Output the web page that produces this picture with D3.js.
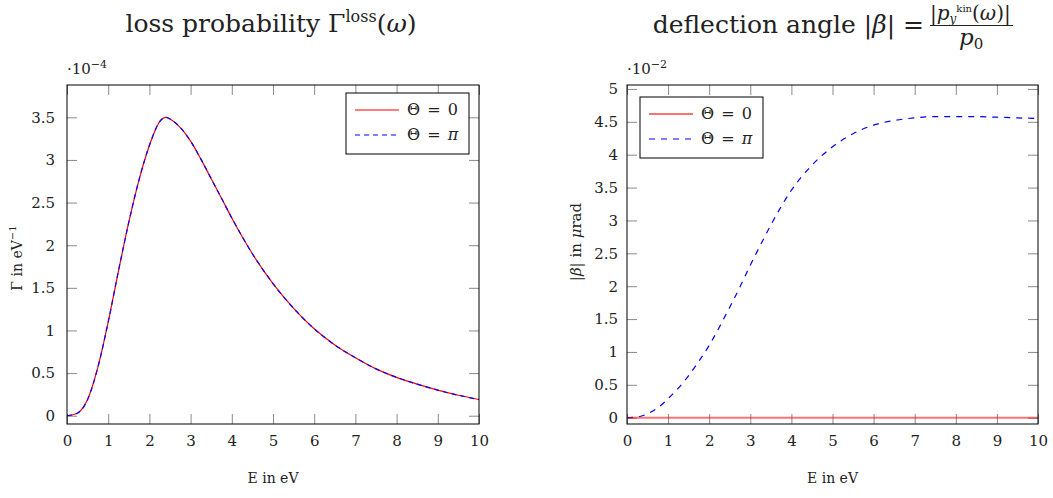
<!DOCTYPE html>
<html>
<head>
<meta charset="utf-8">
<script src="https://cdn.jsdelivr.net/npm/d3@7"></script>
<style>
  body { margin: 0; background: #fff; }
  svg { display: block; }
  text { font-family: "DejaVu Serif", "Liberation Serif", serif; fill: #222; }
</style>
</head>
<body>
<div class="canvas"></div>
<script>
// energies in eV (shared by both panels)
const energy = [0, 0.25, 0.5, 0.75, 1, 1.25, 1.5, 1.75, 2, 2.25, 2.4, 2.5, 2.75, 3, 3.25, 3.5, 3.75, 4,
                4.5, 5, 5.5, 6, 6.5, 7, 7.5, 8, 8.5, 9, 9.5, 10];

// loss probability, units of 1e-4 eV^-1 (Theta = 0 and Theta = pi coincide)
const lossTheta0  = [0, 0.03, 0.19, 0.57, 1.10, 1.70, 2.27, 2.77, 3.17, 3.45, 3.50, 3.48, 3.38, 3.22, 3.01, 2.78, 2.55, 2.32,
                     1.90, 1.55, 1.26, 1.02, 0.83, 0.68, 0.55, 0.45, 0.37, 0.30, 0.24, 0.19];
const lossThetaPi = [0, 0.03, 0.19, 0.57, 1.10, 1.70, 2.27, 2.77, 3.17, 3.45, 3.50, 3.48, 3.38, 3.22, 3.01, 2.78, 2.55, 2.32,
                     1.90, 1.55, 1.26, 1.02, 0.83, 0.68, 0.55, 0.45, 0.37, 0.30, 0.24, 0.19];

// deflection angle, units of 1e-2 microrad
const betaTheta0  = [0, 0, 0, 0, 0, 0, 0, 0, 0, 0, 0, 0, 0, 0, 0, 0, 0, 0,
                     0, 0, 0, 0, 0, 0, 0, 0, 0, 0, 0, 0];
const betaThetaPi = [0, 0.01, 0.06, 0.15, 0.29, 0.45, 0.64, 0.86, 1.10, 1.38, 1.56, 1.68, 1.99, 2.32, 2.63, 2.93, 3.21, 3.46,
                     3.84, 4.12, 4.32, 4.45, 4.52, 4.56, 4.58, 4.58, 4.58, 4.57, 4.56, 4.55];

const xTicks = [0, 1, 2, 3, 4, 5, 6, 7, 8, 9, 10];
const lossTicks = [0, 0.5, 1, 1.5, 2, 2.5, 3, 3.5];
const betaTicks = [0, 0.5, 1, 1.5, 2, 2.5, 3, 3.5, 4, 4.5, 5];
const legendLabels = [['Θ = ', '0'], ['Θ = ', 'π']];

const svg = d3.select('.canvas')
    .append('svg')
    .attr('width', 1053)
    .attr('height', 498);

const tickLen = 10;

// one pgfplots-like panel
const drawPanel = (p) => {
    const w = p.right - p.left;
    const h = p.bottom - p.top;
    const g = svg.append('g').attr('transform', `translate(${p.left},${p.top})`);

    const x = d3.scaleLinear().domain([0, 10]).range([0, w]);
    const y = d3.scaleLinear().domain(p.yDomain).range([h, 0]);

    // ticks on all four sides, pointing inward
    const xb = g.append('g').attr('transform', `translate(0,${h})`)
        .call(d3.axisBottom(x).tickValues(xTicks).tickSize(-tickLen).tickSizeOuter(0).tickPadding(11).tickFormat(d3.format('d')));
    const xt = g.append('g')
        .call(d3.axisTop(x).tickValues(xTicks).tickSize(-tickLen).tickSizeOuter(0).tickFormat(''));
    const yl = g.append('g')
        .call(d3.axisLeft(y).tickValues(p.yTicks).tickSize(-tickLen).tickSizeOuter(0).tickPadding(p.yPad).tickFormat(d => d3.format('')(d)));
    const yr = g.append('g').attr('transform', `translate(${w},0)`)
        .call(d3.axisRight(y).tickValues(p.yTicks).tickSize(-tickLen).tickSizeOuter(0).tickFormat(''));
    [xb, xt, yl, yr].forEach(a => {
        a.select('.domain').remove();
        a.selectAll('line').attr('stroke', '#8a8a8a').attr('stroke-width', 1);
        a.selectAll('text').style('font-family', '"DejaVu Serif", serif').style('font-size', '15px').attr('fill', '#222');
    });

    // curves
    const line = d3.line().x((d, i) => x(energy[i])).y(d => y(d)).curve(d3.curveMonotoneX);
    p.series.forEach(s => {
        g.append('path')
            .attr('d', line(s.values))
            .attr('fill', 'none')
            .attr('stroke', s.color)
            .attr('stroke-width', s.width)
            .attr('stroke-opacity', s.opacity)
            .attr('stroke-dasharray', s.dash);
    });

    // frame
    g.append('rect')
        .attr('width', w).attr('height', h)
        .attr('fill', 'none').attr('stroke', '#000').attr('stroke-width', 1);

    // legend
    const lg = svg.append('g').attr('transform', `translate(${p.legend.x},${p.legend.y})`);
    lg.append('rect')
        .attr('width', 123).attr('height', 61)
        .attr('fill', '#fff').attr('stroke', '#000').attr('stroke-width', 1);
    p.legendOrder.forEach((s, i) => {
        const ly = 17 + i * 25;
        lg.append('line')
            .attr('x1', 9).attr('x2', 53).attr('y1', ly).attr('y2', ly)
            .attr('stroke', s.color).attr('stroke-width', s.width)
            .attr('stroke-opacity', s.opacity).attr('stroke-dasharray', s.dash);
        const lt = lg.append('text')
            .attr('x', 61).attr('y', ly + 5)
            .attr('xml:space', 'preserve')
            .style('font-size', '16px')
            .style('word-spacing', '2px');
        lt.append('tspan').text(legendLabels[i][0]);
        lt.append('tspan').style('font-style', i === 1 ? 'italic' : 'normal').text(legendLabels[i][1]);
    });

    // scale factor label
    const sc = svg.append('text').attr('x', p.left).attr('y', 74).style('font-size', '15px');
    sc.append('tspan').text('·10');
    sc.append('tspan').attr('dy', -6).style('font-size', '11px').text(p.exponent);

    // x axis label
    svg.append('text')
        .attr('x', p.left + w / 2).attr('y', 483)
        .attr('text-anchor', 'middle').style('font-size', '14px')
        .text('E in eV');
    return { g, x, y };
};

drawPanel({
    left: 67, right: 479, top: 85, bottom: 424,
    yDomain: [-0.097, 3.879], yTicks: lossTicks, exponent: '−4', yPad: 12,
    series: [
        { values: lossTheta0, color: '#ff0000', width: 1.2, opacity: 1, dash: null },
        { values: lossThetaPi, color: '#0000ff', width: 1.2, opacity: 1, dash: '5,4' }
    ],
    legendOrder: [
        { color: '#ff0000', width: 1.2, opacity: 1, dash: null },
        { color: '#0000ff', width: 1.2, opacity: 1, dash: '5,4' }
    ],
    legend: { x: 346, y: 93 }
});

drawPanel({
    left: 627, right: 1038, top: 85, bottom: 424,
    yDomain: [-0.096, 5.06], yTicks: betaTicks, exponent: '−2', yPad: 9,
    series: [
        { values: betaThetaPi, color: '#0000ff', width: 1.2, opacity: 1, dash: '6,6' },
        { values: betaTheta0, color: '#ff0000', width: 2, opacity: 0.55, dash: null }
    ],
    legendOrder: [
        { color: '#ff0000', width: 2, opacity: 0.55, dash: null },
        { color: '#0000ff', width: 1.2, opacity: 1, dash: '6,6' }
    ],
    legend: { x: 640, y: 97 }
});

// y axis labels
const gl = svg.append('text')
    .attr('transform', 'translate(22,258) rotate(-90)')
    .attr('text-anchor', 'middle').style('font-size', '14px');
gl.append('tspan').text('Γ in eV');
gl.append('tspan').attr('dy', -6).style('font-size', '10px').text('−1');

const bl = svg.append('text')
    .attr('transform', 'translate(581,242) rotate(-90)')
    .attr('text-anchor', 'middle').style('font-size', '15px');
bl.append('tspan').text('|');
bl.append('tspan').style('font-style', 'italic').text('β');
bl.append('tspan').text('| in ');
bl.append('tspan').style('font-style', 'italic').text('μ');
bl.append('tspan').text('rad');

// titles
const t1 = svg.append('text')
    .attr('x', 271).attr('y', 32)
    .attr('text-anchor', 'middle').style('font-size', '25px');
t1.append('tspan').text('loss probability Γ');
t1.append('tspan').attr('dy', -10).style('font-size', '16px').text('loss');
t1.append('tspan').attr('dy', 10).text('(');
t1.append('tspan').style('font-style', 'italic').text('ω');
t1.append('tspan').text(')');

const t2 = svg.append('text')
    .attr('x', 924).attr('y', 33)
    .attr('text-anchor', 'end').style('font-size', '25px');
t2.append('tspan').text('deflection angle |');
t2.append('tspan').style('font-style', 'italic').text('β');
t2.append('tspan').text('| =');

// fraction |p_y^kin(ω)| / p_0, numerator as one text element
svg.append('line')
    .attr('x1', 930).attr('x2', 1013).attr('y1', 25.5).attr('y2', 25.5)
    .attr('stroke', '#222').attr('stroke-width', 1);
const num = svg.append('text').attr('x', 930).attr('y', 20).style('font-size', '20px');
num.append('tspan').text('|');
num.append('tspan').style('font-style', 'italic').text('p');
num.append('tspan').attr('dy', 3).style('font-size', '12px').style('font-style', 'italic').text('y');
num.append('tspan').attr('dy', -11).style('font-size', '10px').text('kin');
num.append('tspan').attr('dy', 8).text('(');
num.append('tspan').style('font-style', 'italic').text('ω');
num.append('tspan').text(')|');
const den = svg.append('text').attr('x', 959).attr('y', 45).style('font-size', '23px');
den.append('tspan').style('font-style', 'italic').text('p');
den.append('tspan').attr('dy', 4).style('font-size', '15px').text('0');
</script>
</body>
</html>
